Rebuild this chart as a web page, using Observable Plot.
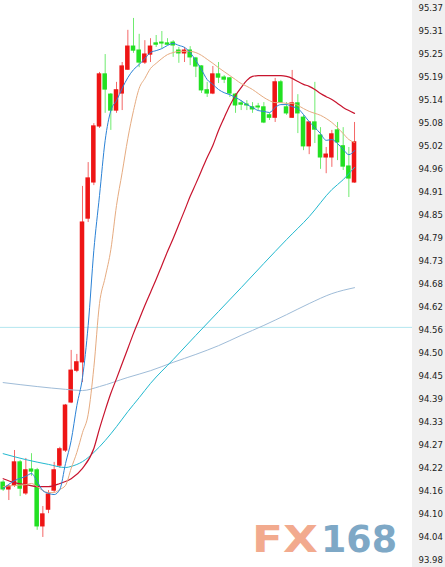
<!DOCTYPE html>
<html><head><meta charset="utf-8">
<script src="https://cdn.jsdelivr.net/npm/d3@7"></script>
<script src="https://cdn.jsdelivr.net/npm/@observablehq/plot@0.6"></script>
<style>
html,body{margin:0;padding:0;background:#fff;}
#wrap{position:relative;width:445px;height:567px;overflow:hidden;}
#panel{position:absolute;left:412px;top:0;width:33px;height:567px;background:#f0f0f0;}
#chart{position:absolute;left:0;top:0;}
.wm{position:absolute;top:521px;font-family:"DejaVu Sans";font-weight:bold;font-size:37px;line-height:37px;white-space:nowrap;transform-origin:0 0;}
</style></head><body>
<div id="wrap"><div id="panel"></div><div id="chart"></div>
<span class="wm" id="wmA" style="color:#f2aa8e">FX</span><span class="wm" id="wmB" style="color:#7ea8c6">168</span></div>
<script>
// ---- data ----
const tickLabels = ["93.98","94.04","94.10","94.16","94.22","94.27","94.33","94.39","94.45","94.50","94.56","94.62","94.68","94.73","94.79","94.85","94.91","94.96","95.02","95.08","95.14","95.19","95.25","95.31","95.37"];
const opens = [94.176,94.159,94.169,94.227,94.149,94.209,94.207,94.066,94.108,94.156,94.219,94.257,94.378,94.458,94.479,94.841,94.932,95.073,95.204,95.153,95.113,95.156,95.216,95.274,95.264,95.234,95.254,95.282,95.284,95.282,95.284,95.264,95.257,95.264,95.244,95.224,95.164,95.156,95.204,95.196,95.194,95.153,95.131,95.128,95.121,95.123,95.121,95.101,95.095,95.184,95.121,95.095,95.131,95.095,95.023,95.083,95.050,94.995,94.995,95.063,95.023,94.972,94.932];
const highs = [94.181,94.169,94.257,94.232,94.237,94.249,94.212,94.116,94.156,94.227,94.265,94.373,94.509,94.499,94.922,94.982,95.080,95.209,95.254,95.156,95.184,95.234,95.315,95.345,95.305,95.289,95.294,95.302,95.312,95.294,95.289,95.272,95.272,95.274,95.247,95.226,95.184,95.224,95.234,95.201,95.196,95.156,95.138,95.138,95.133,95.131,95.133,95.106,95.194,95.189,95.133,95.214,95.153,95.101,95.085,95.184,95.070,95.020,95.063,95.083,95.070,95.020,95.083];
const lows = [94.154,94.131,94.164,94.141,94.144,94.192,94.056,94.038,94.098,94.151,94.212,94.252,94.375,94.453,94.428,94.831,94.924,95.068,95.106,95.063,95.106,95.113,95.214,95.257,95.221,95.229,95.234,95.272,95.269,95.277,95.247,95.232,95.234,95.226,95.196,95.156,95.146,95.153,95.181,95.181,95.146,95.106,95.113,95.113,95.106,95.113,95.080,95.088,95.083,95.131,95.101,95.093,95.055,95.012,95.002,95.030,94.965,94.954,94.970,94.987,94.962,94.894,94.930];
const closes = [94.159,94.166,94.227,94.161,94.207,94.204,94.066,94.096,94.146,94.207,94.260,94.370,94.458,94.479,94.831,94.942,95.073,95.204,95.166,95.113,95.164,95.224,95.274,95.264,95.234,95.254,95.274,95.279,95.282,95.279,95.277,95.257,95.264,95.247,95.224,95.164,95.156,95.204,95.196,95.191,95.156,95.126,95.128,95.126,95.116,95.121,95.083,95.095,95.184,95.133,95.106,95.131,95.106,95.023,95.083,95.065,94.995,95.002,95.053,95.033,94.972,94.942,95.033];

const blueIdx = [0,2,4,5,6,7,8,9,10,11,12,13,14,15,16,17,18,19,20,21,22,23,24,25,26,27,28,29,30,31,32,33,34,35,36,37,38,39,40,41,42,43,44,45,46,47,48,49,50,51,52,53,54,55,56,57,58,59,60,61,62];
const blueVals = [94.161,94.181,94.192,94.199,94.179,94.156,94.149,94.146,94.159,94.224,94.282,94.370,94.441,94.572,94.761,94.899,95.038,95.113,95.138,95.169,95.196,95.216,95.229,95.244,95.259,95.264,95.269,95.277,95.282,95.277,95.272,95.259,95.239,95.216,95.191,95.179,95.166,95.158,95.153,95.146,95.138,95.128,95.121,95.113,95.111,95.108,95.121,95.128,95.128,95.123,95.118,95.103,95.085,95.070,95.055,95.038,95.040,95.030,95.015,95.002,95.012];
const tanIdx = blueIdx;
const tanVals = [94.166,94.169,94.171,94.174,94.166,94.156,94.151,94.151,94.159,94.169,94.212,94.252,94.302,94.348,94.466,94.627,94.693,94.763,94.874,94.957,95.043,95.113,95.169,95.194,95.219,95.232,95.244,95.254,95.259,95.262,95.262,95.262,95.259,95.252,95.242,95.232,95.221,95.211,95.201,95.191,95.181,95.174,95.166,95.156,95.146,95.138,95.133,95.133,95.131,95.131,95.126,95.118,95.111,95.106,95.101,95.093,95.083,95.070,95.055,95.040,95.033];
const redIdx = [0,2,4,6,8,10,12,14,16,17,18,19,20,21,22,23,24,25,26,27,28,29,30,31,32,33,34,35,36,37,38,39,40,41,42,43,44,45,46,47,48,49,50,51,52,53,54,55,56,57,58,59,60,61,62];
const redVals = [94.186,94.176,94.171,94.166,94.166,94.174,94.186,94.212,94.262,94.312,94.358,94.401,94.438,94.476,94.514,94.552,94.587,94.622,94.655,94.688,94.723,94.758,94.791,94.826,94.861,94.897,94.929,94.962,94.995,95.025,95.063,95.095,95.126,95.151,95.171,95.189,95.199,95.201,95.201,95.201,95.201,95.201,95.199,95.194,95.186,95.179,95.174,95.166,95.156,95.148,95.141,95.131,95.121,95.113,95.106];
const cyanIdx = [0,4,8,11,12,14,16,18,20,22,24,26,30,34,38,42,46,50,54,58,60,62];
const cyanVals = [94.249,94.234,94.222,94.214,94.217,94.229,94.252,94.282,94.317,94.355,94.390,94.426,94.486,94.547,94.607,94.667,94.728,94.788,94.846,94.914,94.939,94.970];
const steelIdx = [0,6,11,14,17,22,26,30,34,38,42,46,50,54,58,62];
const steelVals = [94.428,94.418,94.411,94.408,94.418,94.441,94.458,94.479,94.499,94.521,94.547,94.572,94.599,94.627,94.652,94.667];
const levelLine = 94.567;

// ---- build ----
const axisLo = +tickLabels[0], axisHi = +tickLabels[tickLabels.length - 1];
const step = (axisHi - axisLo) / (tickLabels.length - 1);
const tickValues = tickLabels.map((_, i) => axisLo + i * step);
const candles = opens.map((o, i) => ({i, o, h: highs[i], l: lows[i], c: closes[i], up: closes[i] > o}));
const series = (idx, vals) => idx.map((i, k) => ({i, v: vals[k]}));
const UP = "#ee1515", DOWN = "#22e022";

const chart = Plot.plot({
  width: 445, height: 567,
  marginLeft: 0, marginRight: 33, marginTop: 0, marginBottom: 0,
  style: {background: "transparent", fontFamily: "DejaVu Sans", fontSize: "8.5px", color: "#222"},
  x: {domain: [-2.67 / 5.667, (412 - 2.67) / 5.667], axis: null},
  y: {domain: [axisLo - 7 / 23 * step, axisHi + 8 / 23 * step], axis: "right", ticks: tickValues,
      tickFormat: d => tickLabels[Math.round((d - axisLo) / step)], tickSize: 0, tickPadding: 6, label: null},
  color: {type: "identity"},
  marks: [
    Plot.ruleY([levelLine], {stroke: "#b3e6ef", strokeWidth: 1}),
    Plot.ruleX(candles, {x: "i", y1: "l", y2: "h", stroke: d => d.up ? UP : DOWN, strokeOpacity: 0.65, strokeWidth: 1}),
    Plot.rect(candles, {x1: d => d.i - 0.4, x2: d => d.i + 0.4, y1: d => Math.min(d.o, d.c), y2: d => Math.max(d.o, d.c),
      fill: d => d.up ? UP : DOWN, insetTop: -0.6, insetBottom: -0.6}),
    Plot.line(series(steelIdx, steelVals), {x: "i", y: "v", stroke: "#9fbcd8", strokeWidth: 1, curve: "monotone-x"}),
    Plot.line(series(cyanIdx, cyanVals), {x: "i", y: "v", stroke: "#22b9cf", strokeWidth: 1, curve: "monotone-x"}),
    Plot.line(series(redIdx, redVals), {x: "i", y: "v", stroke: "#c8142e", strokeWidth: 1.2, curve: "monotone-x"}),
    Plot.line(series(tanIdx, tanVals), {x: "i", y: "v", stroke: "#e6ab80", strokeWidth: 1, curve: "monotone-x"}),
    Plot.line(series(blueIdx, blueVals), {x: "i", y: "v", stroke: "#2b82d6", strokeWidth: 1, curve: "monotone-x"})
  ]
});
document.getElementById("chart").appendChild(chart);

function fit(id, left, w) {
  const el = document.getElementById(id);
  el.style.left = left + "px";
  const nat = el.getBoundingClientRect().width;
  el.style.transform = `scaleX(${w / nat})`;
}
fit("wmA", 252, 66);
fit("wmB", 321, 76);
</script>
</body></html>
